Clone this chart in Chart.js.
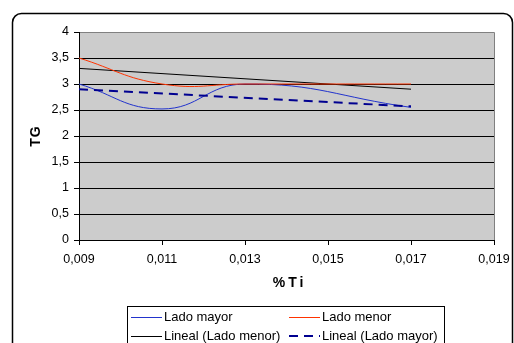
<!DOCTYPE html>
<html>
<head>
<meta charset="utf-8">
<script src="https://cdn.jsdelivr.net/npm/chart.js@4/dist/chart.umd.min.js"></script>
<style>
html,body{margin:0;padding:0;background:#fff;}
#wrap{width:514px;height:343px;position:relative;}
</style>
</head>
<body>
<div id="wrap"><canvas id="c" width="514" height="343"></canvas></div>
<script>
// Data
const xValues = [0.009, 0.011, 0.013, 0.017];
const ladoMayor = [3.0, 2.52, 3.0, 2.55];
const ladoMenor = [3.5, 3.0, 3.0, 3.0];
const trendX = [0.009, 0.017];
const linealLadoMenor = [3.3, 2.9];
const linealLadoMayor = [2.9, 2.57];
const xTicks = [0.009, 0.011, 0.013, 0.015, 0.017, 0.019];
const yTicks = [0, 0.5, 1, 1.5, 2, 2.5, 3, 3.5, 4];
const seriesNames = ['Lado mayor', 'Lado menor', 'Lineal (Lado menor)', 'Lineal (Lado mayor)'];
const xTitle = '%Ti';
const yTitle = 'TG';

const COLORS = ['#2233cc', '#ff3300', '#000000', '#000090'];
const WIDTHS = [1, 1, 1, 2];
const DASHES = [[], [], [], [9, 6]];

const pts = (xs, ys) => xs.map((x, i) => ({x: x, y: ys[i]}));
const fmt = v => String(Number(v.toFixed(3))).replace('.', ',');
const FONT = '"Liberation Sans", Arial, sans-serif';

const chartBg = {
  id: 'chartBg',
  beforeDraw(chart) {
    const ctx = chart.ctx, a = chart.chartArea;
    ctx.save();
    ctx.fillStyle = '#fff';
    ctx.fillRect(0, 0, chart.width, chart.height);
    ctx.strokeStyle = '#000';
    ctx.lineWidth = 1.5;
    ctx.beginPath();
    ctx.roundRect(12.5, 13.5, 500, 360, 9);
    ctx.stroke();
    ctx.fillStyle = '#cccccc';
    ctx.fillRect(a.left, a.top, a.right - a.left, a.bottom - a.top);
    ctx.strokeStyle = '#808080';
    ctx.lineWidth = 1;
    ctx.beginPath();
    ctx.moveTo(a.left, a.top + 0.5);
    ctx.lineTo(a.right + 0.5, a.top + 0.5);
    ctx.lineTo(a.right + 0.5, a.bottom);
    ctx.stroke();
    ctx.restore();
  },
  afterDraw(chart) {
    const ctx = chart.ctx, a = chart.chartArea;
    ctx.save();
    ctx.fillStyle = '#000';
    ctx.font = 'bold 14px ' + FONT;
    ctx.textAlign = 'center';
    ctx.textBaseline = 'middle';
    try { ctx.letterSpacing = '3px'; } catch (e) {}
    ctx.fillText(xTitle, (a.left + a.right) / 2 + 3, 283);
    try { ctx.letterSpacing = '1px'; } catch (e) {}
    ctx.save();
    ctx.translate(36, 136);
    ctx.rotate(-Math.PI / 2);
    ctx.fillText(yTitle, 0, 0);
    ctx.restore();
    try { ctx.letterSpacing = '0px'; } catch (e) {}
    // legend
    const L = 127.5, T = 306.5, W = 317;
    ctx.fillStyle = '#fff';
    ctx.fillRect(L, T, W, 60);
    ctx.strokeStyle = '#000';
    ctx.lineWidth = 1;
    ctx.strokeRect(L, T, W, 60);
    const pos = [[131, 317], [289, 317], [131, 336], [289, 336]];
    ctx.font = '13px ' + FONT;
    ctx.textAlign = 'left';
    ctx.textBaseline = 'middle';
    seriesNames.forEach((name, i) => {
      const [x, y] = pos[i];
      ctx.strokeStyle = COLORS[i];
      ctx.lineWidth = WIDTHS[i];
      ctx.setLineDash(DASHES[i]);
      ctx.beginPath();
      ctx.moveTo(x, y + (WIDTHS[i] === 1 ? 0.5 : 0));
      ctx.lineTo(x + 31, y + (WIDTHS[i] === 1 ? 0.5 : 0));
      ctx.stroke();
      ctx.setLineDash([]);
      ctx.fillStyle = '#000';
      ctx.fillText(name, x + 33, y);
    });
    ctx.restore();
  }
};

new Chart(document.getElementById('c'), {
  type: 'scatter',
  data: {
    datasets: [
      {label: seriesNames[0], data: pts(xValues, ladoMayor), showLine: true, borderColor: COLORS[0], borderWidth: WIDTHS[0], pointRadius: 0, tension: 0.45, order: 2},
      {label: seriesNames[1], data: pts(xValues, ladoMenor), showLine: true, borderColor: COLORS[1], borderWidth: WIDTHS[1], pointRadius: 0, tension: 0.45, order: 1},
      {label: seriesNames[2], data: pts(trendX, linealLadoMenor), showLine: true, borderColor: COLORS[2], borderWidth: WIDTHS[2], pointRadius: 0, order: 3},
      {label: seriesNames[3], data: pts(trendX, linealLadoMayor), showLine: true, borderColor: COLORS[3], borderWidth: WIDTHS[3], borderDash: DASHES[3], pointRadius: 0, order: 0}
    ]
  },
  options: {
    responsive: false,
    animation: false,
    devicePixelRatio: 1,
    layout: {padding: {left: 0, top: 32, right: 20, bottom: 0}},
    plugins: {legend: {display: false}, tooltip: {enabled: false}},
    scales: {
      x: {
        type: 'linear', min: 0.009, max: 0.019,
        afterBuildTicks: s => { s.ticks = xTicks.map(v => ({value: v})); },
        afterFit: s => { s.height = 103; s.paddingRight = 0; s.paddingLeft = 0; },
        ticks: {callback: v => fmt(v), color: '#000', font: {family: FONT, size: 12.5}, padding: 7, maxRotation: 0, autoSkip: false},
        grid: {drawOnChartArea: false, drawTicks: true, tickLength: 5, tickColor: '#000'},
        border: {color: '#000', width: 1}
      },
      y: {
        type: 'linear', min: 0, max: 4,
        afterBuildTicks: s => { s.ticks = yTicks.map(v => ({value: v})); },
        afterFit: s => { s.width = 79; s.paddingTop = 0; s.paddingBottom = 0; },
        ticks: {callback: v => fmt(v), color: '#000', font: {family: FONT, size: 12.5}, padding: 5, autoSkip: false},
        grid: {color: ctx => (ctx.tick && ctx.tick.value === 4 ? '#808080' : '#000'), lineWidth: 1, drawTicks: true, tickLength: 5, tickColor: '#000'},
        border: {color: '#000', width: 1}
      }
    }
  },
  plugins: [chartBg]
});
</script>
</body>
</html>
